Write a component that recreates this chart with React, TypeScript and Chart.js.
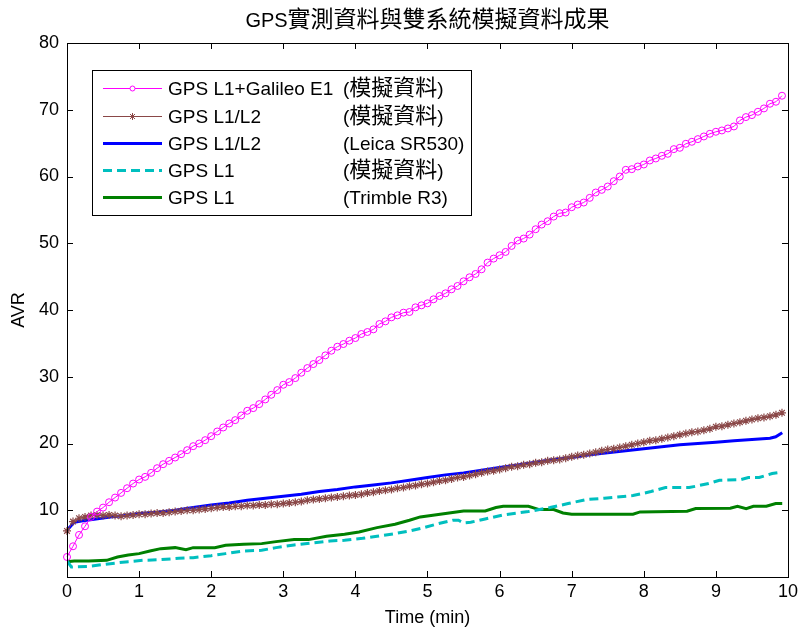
import React, { useEffect, useRef } from 'react';
import { Chart, registerables } from 'chart.js';

Chart.register(...registerables);

// ---------- text ----------
const TITLE = 'GPS實測資料與雙系統模擬資料成果';
const X_LABEL = 'Time (min)';
const Y_LABEL = 'AVR';
const X_TICKS = [0, 1, 2, 3, 4, 5, 6, 7, 8, 9, 10];
const Y_TICKS = [0, 10, 20, 30, 40, 50, 60, 70, 80];

const LEGEND_LEFT = ['GPS L1+Galileo E1', 'GPS L1/L2', 'GPS L1/L2', 'GPS L1', 'GPS L1'];
const LEGEND_RIGHT = ['(模擬資料)', '(模擬資料)', '(Leica SR530)', '(模擬資料)', '(Trimble R3)'];

// ---------- data ----------
// simulated series sampled every 5 s
const SAMPLE_STEP_MIN = 5 / 60;

const galileoSimValues = [
  3.0, 4.6, 6.3, 7.6, 9.0, 9.8, 10.4, 11.2, 11.9, 12.6, 13.3, 14.0,
  14.6, 15.0, 15.6, 16.3, 16.9, 17.4, 17.9, 18.4, 19.0, 19.6, 20.0, 20.5,
  21.1, 21.8, 22.4, 23.0, 23.5, 24.2, 24.9, 25.3, 25.9, 26.6, 27.3, 28.0,
  28.8, 29.2, 29.8, 30.6, 31.3, 31.9, 32.5, 33.2, 33.9, 34.5, 34.9, 35.4,
  35.8, 36.4, 36.7, 37.1, 37.9, 38.3, 38.9, 39.2, 39.6, 39.7, 40.4, 40.7,
  41.0, 41.6, 42.1, 42.5, 43.1, 43.6, 44.3, 44.9, 45.4, 46.1, 47.1, 47.7,
  48.2, 48.7, 49.6, 50.4, 50.7, 51.3, 52.1, 52.8, 53.3, 54.0, 54.5, 54.6,
  55.4, 55.8, 56.1, 56.8, 57.6, 58.0, 58.5, 59.3, 60.0, 61.0, 61.1, 61.5,
  61.8, 62.4, 62.7, 63.1, 63.4, 64.1, 64.3, 64.9, 65.2, 65.6, 66.0, 66.4,
  66.7, 66.9, 67.2, 67.5, 68.4, 68.9, 69.2, 69.7, 70.2, 70.9, 71.2, 72.1,
];

const l1l2SimValues = [
  6.9, 8.3, 8.8, 9.0, 9.2, 9.3, 9.2, 9.3, 9.2, 9.1, 9.2, 9.3,
  9.4, 9.4, 9.5, 9.6, 9.6, 9.7, 9.8, 9.9, 10.0, 10.0, 10.1, 10.2,
  10.3, 10.4, 10.5, 10.5, 10.6, 10.6, 10.7, 10.7, 10.8, 10.8, 10.9, 10.9,
  11.0, 11.1, 11.2, 11.3, 11.5, 11.6, 11.7, 11.8, 11.9, 12.0, 12.1, 12.2,
  12.3, 12.4, 12.6, 12.7, 12.9, 13.0, 13.1, 13.3, 13.4, 13.6, 13.7, 13.9,
  14.0, 14.2, 14.4, 14.5, 14.7, 14.9, 15.0, 15.2, 15.4, 15.6, 15.8, 15.9,
  16.1, 16.3, 16.5, 16.6, 16.8, 16.9, 17.1, 17.2, 17.4, 17.5, 17.6, 17.8,
  18.0, 18.2, 18.3, 18.5, 18.7, 18.9, 19.1, 19.2, 19.4, 19.6, 19.8, 20.0,
  20.2, 20.4, 20.5, 20.7, 20.9, 21.1, 21.3, 21.5, 21.7, 21.8, 22.0, 22.2,
  22.5, 22.6, 22.8, 23.0, 23.2, 23.4, 23.6, 23.8, 23.9, 24.1, 24.3, 24.6,
];

const leicaTimes = [
  0, 0.1, 0.2, 0.4, 0.6, 0.8, 1.0, 1.25, 1.5, 1.75, 2.0, 2.25, 2.5, 2.75, 3.0,
  3.25, 3.5, 3.75, 4.0, 4.25, 4.5, 4.75, 5.0, 5.25, 5.5, 5.75, 6.0, 6.25, 6.5,
  6.75, 7.0, 7.25, 7.5, 7.75, 8.0, 8.25, 8.5, 8.75, 9.0, 9.25, 9.5, 9.75, 9.83, 9.92,
];
const leicaValues = [
  7.0, 8.2, 8.4, 8.7, 9.0, 9.2, 9.5, 9.7, 10.0, 10.4, 10.8, 11.1, 11.5, 11.8, 12.1,
  12.4, 12.8, 13.1, 13.5, 13.8, 14.1, 14.5, 14.9, 15.3, 15.6, 16.0, 16.4, 16.8, 17.2,
  17.6, 17.9, 18.3, 18.6, 18.9, 19.2, 19.5, 19.8, 20.0, 20.2, 20.4, 20.6, 20.8, 21.0, 21.6,
];

const l1SimTimes = [
  0, 0.06, 0.3, 0.6, 0.85, 1.05, 1.3, 1.55, 1.75, 2.0, 2.2, 2.45, 2.7, 2.9, 3.15,
  3.4, 3.65, 3.85, 4.1, 4.3, 4.55, 4.75, 4.95, 5.15, 5.35, 5.43, 5.5, 5.6, 5.8,
  6.05, 6.4, 6.7, 6.95, 7.2, 7.45, 7.85, 8.1, 8.3, 8.63, 8.9, 9.05, 9.35, 9.45,
  9.6, 9.78, 9.92,
];
const l1SimValues = [
  2.4, 1.5, 1.6, 2.0, 2.3, 2.5, 2.6, 2.8, 2.9, 3.2, 3.5, 3.9, 4.0, 4.4, 4.8,
  5.1, 5.4, 5.5, 5.8, 6.1, 6.5, 6.9, 7.4, 8.0, 8.5, 8.5, 8.1, 8.2, 8.7,
  9.3, 9.8, 10.4, 11.0, 11.6, 11.8, 12.2, 12.8, 13.4, 13.4, 14.0, 14.5, 14.6, 14.9,
  14.9, 15.5, 15.7,
];

const trimbleTimes = [
  0, 0.1, 0.3, 0.55, 0.7, 0.85, 1.0, 1.15, 1.3, 1.5, 1.65, 1.75, 2.05, 2.2, 2.45,
  2.7, 2.9, 3.15, 3.35, 3.6, 3.85, 4.05, 4.3, 4.55, 4.75, 4.9, 5.1, 5.3, 5.5, 5.8,
  5.95, 6.05, 6.4, 6.55, 6.75, 6.88, 7.0, 7.85, 7.95, 8.6, 8.72, 9.2, 9.3, 9.42,
  9.52, 9.7, 9.83, 9.92,
];
const trimbleValues = [
  2.3, 2.4, 2.4, 2.5, 3.0, 3.3, 3.5, 3.9, 4.25, 4.4, 4.1, 4.4, 4.4, 4.75, 4.9,
  5.0, 5.3, 5.6, 5.6, 6.1, 6.4, 6.75, 7.4, 7.9, 8.5, 9.0, 9.3, 9.6, 9.9, 9.9,
  10.4, 10.6, 10.6, 10.1, 10.1, 9.6, 9.4, 9.4, 9.75, 9.85, 10.25, 10.3, 10.6, 10.25,
  10.6, 10.6, 11.0, 11.0,
];

// ---------- style ----------
const LATIN = '"Liberation Sans", Arial, Helvetica, sans-serif';
const CJK = '"Noto Sans CJK TC", "Noto Sans CJK SC", sans-serif';
const C_MAGENTA = '#FF00FF';
const C_BROWN = '#8A4747';
const C_BLUE = '#0000FF';
const C_CYAN = '#00BFBF';
const C_GREEN = '#008000';

const CJK_RE = /[\u2e80-\u9fff\uf900-\ufaff]/;

function runsOf(text: string) {
  const runs: { t: string; cjk: boolean }[] = [];
  for (const ch of text) {
    const cjk = CJK_RE.test(ch);
    const last = runs[runs.length - 1];
    if (last && last.cjk === cjk) last.t += ch;
    else runs.push({ t: ch, cjk });
  }
  return runs;
}

function mixedWidth(ctx: CanvasRenderingContext2D, text: string, lf: string, cf: string) {
  let w = 0;
  for (const r of runsOf(text)) {
    ctx.font = r.cjk ? cf : lf;
    w += ctx.measureText(r.t).width;
  }
  return w;
}

function drawMixed(ctx: CanvasRenderingContext2D, text: string, x: number, y: number, lf: string, cf: string) {
  let cx = x;
  for (const r of runsOf(text)) {
    ctx.font = r.cjk ? cf : lf;
    ctx.fillText(r.t, cx, y);
    cx += ctx.measureText(r.t).width;
  }
}

const framePlugin = {
  id: 'matlabFrame',
  afterDatasetsDraw(chart: any) {
    const ctx: CanvasRenderingContext2D = chart.ctx;
    const a = chart.chartArea;
    const xs = chart.scales.x;
    const ys = chart.scales.y;
    ctx.save();
    ctx.strokeStyle = '#000';
    ctx.lineWidth = 1;
    // box
    ctx.strokeRect(Math.round(a.left) + 0.5, Math.round(a.top) + 0.5, Math.round(a.right - a.left), Math.round(a.bottom - a.top));
    // inward ticks
    const TL = 6;
    ctx.beginPath();
    for (const v of X_TICKS) {
      const px = Math.round(xs.getPixelForValue(v)) + 0.5;
      ctx.moveTo(px, a.bottom);
      ctx.lineTo(px, a.bottom - TL);
      ctx.moveTo(px, a.top);
      ctx.lineTo(px, a.top + TL);
    }
    for (const v of Y_TICKS) {
      const py = Math.round(ys.getPixelForValue(v)) + 0.5;
      ctx.moveTo(a.left, py);
      ctx.lineTo(a.left + TL, py);
      ctx.moveTo(a.right, py);
      ctx.lineTo(a.right - TL, py);
    }
    ctx.stroke();

    // legend
    const bx = 92, by = 70, bw = 379, bh = 145;
    ctx.fillStyle = '#fff';
    ctx.fillRect(bx, by, bw, bh);
    ctx.strokeRect(bx + 0.5, by + 0.5, bw, bh);
    const rowY = [88, 116, 143, 170, 197];
    const ds = chart.data.datasets;
    const lf = '19px ' + LATIN;
    const cf = '22px ' + CJK;
    for (let i = 0; i < 5; i++) {
      const d = ds[i];
      const y = rowY[i];
      ctx.save();
      ctx.strokeStyle = d.borderColor;
      ctx.lineWidth = d.borderWidth;
      ctx.setLineDash(d.borderDash || []);
      ctx.beginPath();
      ctx.moveTo(103, y + 0.5);
      ctx.lineTo(162, y + 0.5);
      ctx.stroke();
      ctx.setLineDash([]);
      if (d.pointRadius > 0) {
        ctx.lineWidth = 1;
        ctx.strokeStyle = d.pointBorderColor;
        if (d.pointStyle === 'circle') {
          ctx.beginPath();
          ctx.arc(132.5, y + 0.5, 2.5, 0, Math.PI * 2);
          ctx.fillStyle = '#fff';
          ctx.fill();
          ctx.stroke();
        } else {
          const r = 3.5;
          ctx.beginPath();
          ctx.moveTo(132.5 - r, y + 0.5); ctx.lineTo(132.5 + r, y + 0.5);
          ctx.moveTo(132.5, y + 0.5 - r); ctx.lineTo(132.5, y + 0.5 + r);
          const q = r * 0.707;
          ctx.moveTo(132.5 - q, y + 0.5 - q); ctx.lineTo(132.5 + q, y + 0.5 + q);
          ctx.moveTo(132.5 - q, y + 0.5 + q); ctx.lineTo(132.5 + q, y + 0.5 - q);
          ctx.stroke();
        }
      }
      ctx.restore();
      ctx.fillStyle = '#000';
      ctx.textBaseline = 'alphabetic';
      ctx.textAlign = 'left';
      drawMixed(ctx, LEGEND_LEFT[i], 168, y + 7, lf, cf);
      drawMixed(ctx, LEGEND_RIGHT[i], 343, y + 7, lf, cf);
    }

    // title
    const tlf = '20px ' + LATIN;
    const tcf = '23px ' + CJK;
    const tw = mixedWidth(ctx, TITLE, tlf, tcf);
    const cx = (a.left + a.right) / 2;
    ctx.fillStyle = '#000';
    ctx.textAlign = 'left';
    ctx.textBaseline = 'alphabetic';
    drawMixed(ctx, TITLE, cx - tw / 2, 27, tlf, tcf);
    ctx.restore();
  },
};

export default function App() {
  const ref = useRef<HTMLCanvasElement | null>(null);

  useEffect(() => {
    const canvas = ref.current;
    if (!canvas) return;
    const tickFont = { family: LATIN, size: 18 };
    const chart = new Chart(canvas, {
      type: 'line',
      data: {
        datasets: [
          {
            label: LEGEND_LEFT[0] + ' ' + LEGEND_RIGHT[0],
            data: galileoSimValues.map((v, i) => ({ x: i * SAMPLE_STEP_MIN, y: v })),
            borderColor: C_MAGENTA,
            borderWidth: 1,
            pointStyle: 'circle',
            pointRadius: 3.5,
            pointBorderWidth: 1,
            pointBorderColor: C_MAGENTA,
            pointBackgroundColor: 'rgba(0,0,0,0)',
            tension: 0,
            clip: false,
          },
          {
            label: LEGEND_LEFT[1] + ' ' + LEGEND_RIGHT[1],
            data: l1l2SimValues.map((v, i) => ({ x: i * SAMPLE_STEP_MIN, y: v })),
            borderColor: C_BROWN,
            borderWidth: 1,
            pointStyle: 'star',
            pointRadius: 4,
            pointBorderWidth: 1.2,
            pointBorderColor: C_BROWN,
            pointBackgroundColor: C_BROWN,
            tension: 0,
            clip: false,
          },
          {
            label: LEGEND_LEFT[2] + ' ' + LEGEND_RIGHT[2],
            data: leicaValues.map((v, i) => ({ x: leicaTimes[i], y: v })),
            borderColor: C_BLUE,
            borderWidth: 3,
            pointRadius: 0,
            tension: 0,
          },
          {
            label: LEGEND_LEFT[3] + ' ' + LEGEND_RIGHT[3],
            data: l1SimValues.map((v, i) => ({ x: l1SimTimes[i], y: v })),
            borderColor: C_CYAN,
            borderWidth: 3,
            borderDash: [9, 5],
            pointRadius: 0,
            tension: 0,
          },
          {
            label: LEGEND_LEFT[4] + ' ' + LEGEND_RIGHT[4],
            data: trimbleValues.map((v, i) => ({ x: trimbleTimes[i], y: v })),
            borderColor: C_GREEN,
            borderWidth: 3,
            pointRadius: 0,
            tension: 0,
          },
        ],
      },
      options: {
        responsive: false,
        animation: false,
        events: [],
        layout: { padding: { top: 43, right: 13, left: 0, bottom: 0 } },
        plugins: {
          legend: { display: false },
          title: { display: false },
          tooltip: { enabled: false },
        },
        scales: {
          x: {
            type: 'linear',
            min: 0,
            max: 10,
            afterFit: (s: any) => { s.height = 50; },
            afterBuildTicks: (s: any) => { s.ticks = X_TICKS.map((v) => ({ value: v })); },
            grid: { display: false, drawTicks: false },
            border: { display: false },
            ticks: { color: '#000', font: tickFont, padding: 4, maxRotation: 0, autoSkip: false },
            title: { display: true, text: X_LABEL, color: '#000', font: tickFont, padding: { top: 0, bottom: -2 } },
          },
          y: {
            type: 'linear',
            min: 0,
            max: 80,
            afterFit: (s: any) => { s.width = 67; },
            afterBuildTicks: (s: any) => { s.ticks = Y_TICKS.map((v) => ({ value: v })); },
            grid: { display: false, drawTicks: false },
            border: { display: false },
            ticks: {
              color: '#000',
              font: tickFont,
              padding: 8,
              autoSkip: false,
              callback: (v: any) => (v === 0 ? '' : String(v)),
            },
            title: { display: true, text: Y_LABEL, color: '#000', font: tickFont, padding: { top: 8, bottom: 0 } },
          },
        },
      },
      plugins: [framePlugin],
    } as any);
    return () => chart.destroy();
  }, []);

  return (
    <div style={{ position: 'fixed', left: 0, top: 0, width: 802, height: 627, background: '#fff' }}>
      <canvas ref={ref} width={802} height={627} style={{ width: 802, height: 627, display: 'block' }} />
    </div>
  );
}
